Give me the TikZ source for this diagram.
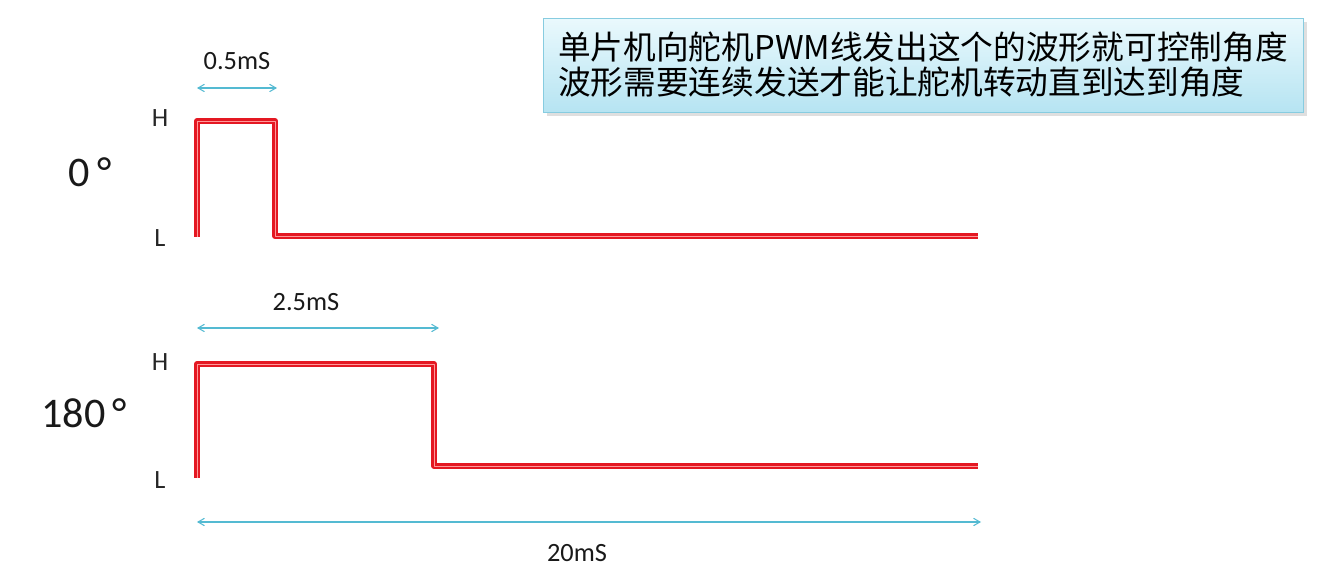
\documentclass[tikz,border=0pt]{standalone}
\usepackage{fontspec}
\setmainfont{Carlito}
\newfontfamily\cjk{Noto Sans CJK SC}
\usetikzlibrary{arrows,positioning,shadows}
\definecolor{pwmred}{RGB}{228,24,34}
\definecolor{dimblue}{RGB}{84,186,210}
\definecolor{boxtop}{RGB}{234,249,253}
\definecolor{boxbot}{RGB}{182,228,242}
\definecolor{boxline}{RGB}{135,204,224}
\tikzstyle{wave}=[draw=pwmred, line width=3.4pt, line join=round,
    postaction={draw=red!40, line width=0.3pt}]
\tikzstyle{dim}=[<->, >=angle 60, draw=dimblue, semithick]
\tikzstyle{level}=[font=\fontsize{15}{17}\selectfont, text=black!85]
\tikzstyle{deglabel}=[font=\fontsize{24}{28}\selectfont, text=black!90]
\tikzstyle{timelabel}=[font=\fontsize{15}{17}\selectfont, text=black!90]

\begin{document}
\begin{tikzpicture}[x=0.02cm, y=-0.02cm]
    \useasboundingbox (0,0) rectangle (1330,577);

    % note box
    \node[draw=boxline, top color=boxtop, bottom color=boxbot, drop shadow={opacity=0.25},
          minimum width=15.2cm, minimum height=1.88cm, align=left, inner sep=0pt,
          font=\cjk\fontsize{18.6}{19.8}\selectfont]
          (note) at (923,65) {单片机向舵机PWM线发出这个的波形就可控制角度\\波形需要连续发送才能让舵机转动直到达到角度};

    % 0 degree
    \node[deglabel] (deg0) at (90,172) {0\,°};
    \node[level] (h0) at (160,118) {H};
    \node[level] (l0) at (160,238) {L};
    \draw[wave] (197,237) -- (197,121) -- (275,121) -- (275,236) -- (978,236);
    \coordinate (p0a) at (197,88);
    \coordinate (p0b) at (277,88);
    \draw[dim] (p0a) -- (p0b);
    \node[timelabel] (t0) at (237,61) {0.5mS};

    % 180 degree
    \node[deglabel] (deg180) at (84,413) {180\,°};
    \node[level] (h1) at (160,362) {H};
    \node[level] (l1) at (160,480) {L};
    \draw[wave] (197,478) -- (197,364) -- (434,364) -- (434,466) -- (978,466);
    \coordinate (p1a) at (197,328);
    \coordinate (p1b) at (439,328);
    \draw[dim] (p1a) -- (p1b);
    \node[timelabel] (t1) at (306,302) {2.5mS};

    % period
    \coordinate (pa) at (197,522);
    \coordinate (pb) at (981,522);
    \draw[dim] (pa) -- (pb);
    \node[timelabel] (period) at (577,553) {20mS};
\end{tikzpicture}
\end{document}
